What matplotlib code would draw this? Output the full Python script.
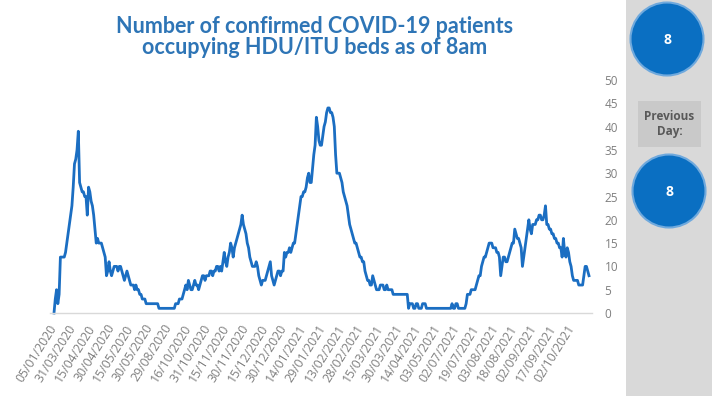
import matplotlib
matplotlib.use("Agg")
import matplotlib.pyplot as plt
from matplotlib.patches import Circle, Rectangle

# Daily count of confirmed COVID-19 patients in HDU/ITU beds (08:00 snapshot)
patients = [
    0, 3, 5, 2, 4, 12, 12, 12, 12, 13,
    15, 17, 19, 21, 23, 27, 32, 33, 35, 39,
    28, 27, 26, 26, 25, 25, 21, 27, 26, 24,
    23, 21, 18, 15, 16, 15, 15, 15, 14, 13,
    12, 8, 9, 11, 9, 8, 9, 10, 10, 10,
    9, 10, 10, 9, 8, 7, 8, 9, 8, 7,
    6, 6, 6, 5, 6, 5, 5, 4, 4, 3,
    3, 3, 2, 2, 2, 2, 2, 2, 2, 2,
    2, 2, 1, 1, 1, 1, 1, 1, 1, 1,
    1, 1, 1, 1, 1, 2, 2, 2, 3, 3,
    3, 4, 5, 6, 5, 7, 6, 5, 5, 6,
    7, 6, 6, 5, 6, 7, 8, 8, 7, 8,
    8, 8, 9, 9, 8, 9, 9, 10, 10, 9,
    10, 9, 11, 13, 11, 10, 12, 13, 15, 14,
    12, 14, 15, 16, 17, 18, 19, 21, 19, 18,
    17, 15, 14, 12, 11, 10, 10, 10, 11, 10,
    8, 7, 6, 7, 7, 7, 8, 9, 10, 11,
    8, 7, 6, 7, 8, 9, 9, 8, 9, 9,
    13, 12, 13, 13, 14, 13, 14, 15, 15, 17,
    19, 21, 23, 25, 25, 26, 26, 27, 29, 30,
    28, 28, 31, 34, 36, 42, 40, 37, 36, 36,
    38, 40, 41, 43, 44, 44, 43, 43, 42, 40,
    34, 30, 30, 30, 29, 28, 26, 25, 24, 23,
    21, 19, 18, 17, 16, 15, 15, 14, 13, 12,
    12, 11, 11, 9, 8, 7, 7, 6, 6, 8,
    7, 6, 5, 5, 5, 6, 6, 6, 5, 5,
    6, 5, 5, 5, 5, 4, 4, 4, 4, 4,
    4, 4, 4, 4, 4, 4, 4, 1, 2, 2,
    2, 1, 1, 2, 2, 1, 1, 1, 2, 2,
    2, 1, 1, 1, 1, 1, 1, 1, 1, 1,
    1, 1, 1, 1, 1, 1, 1, 1, 1, 1,
    1, 2, 1, 1, 2, 2, 1, 1, 1, 1,
    1, 1, 2, 4, 4, 4, 5, 5, 5, 5,
    6, 7, 8, 8, 10, 11, 12, 12, 13, 14,
    15, 15, 15, 14, 14, 14, 13, 13, 12, 8,
    10, 12, 12, 11, 11, 12, 13, 14, 15, 15,
    18, 17, 16, 16, 15, 14, 10, 12, 14, 16,
    18, 20, 18, 17, 19, 19, 19, 20, 20, 21,
    21, 20, 20, 21, 23, 19, 19, 18, 18, 17,
    17, 16, 16, 15, 15, 14, 14, 12, 16, 13,
    12, 14, 13, 11, 10, 8, 7, 7, 7, 7,
    6, 6, 6, 6, 8, 10, 10, 9, 8,
]

# Category labels, one every 15 records
date_labels = [
    "05/01/2020", "31/03/2020", "15/04/2020", "30/04/2020", "15/05/2020",
    "30/05/2020", "29/08/2020", "16/10/2020", "31/10/2020", "15/11/2020",
    "30/11/2020", "15/12/2020", "30/12/2020", "14/01/2021", "29/01/2021",
    "13/02/2021", "28/02/2021", "15/03/2021", "30/03/2021", "14/04/2021",
    "03/05/2021", "02/07/2021", "19/07/2021", "03/08/2021", "18/08/2021",
    "02/09/2021", "17/09/2021", "02/10/2021",
]
label_step = 15
y_ticks = [0, 5, 10, 15, 20, 25, 30, 35, 40, 45, 50]

today_value = 8
previous_day_value = 8

title_text = "Number of confirmed COVID-19 patients\noccupying HDU/ITU beds as of 8am"

W, H = 712, 396
fig = plt.figure(figsize=(W / 100, H / 100), dpi=100)
fig.patch.set_facecolor("white")

# Pixel-space overlay for the side panel
bg = fig.add_axes([0, 0, 1, 1], zorder=0)
bg.set_xlim(0, W)
bg.set_ylim(H, 0)
bg.axis("off")
bg.add_patch(Rectangle((626, 0), W - 626, H, facecolor="#d9d9d9", edgecolor="none"))
bg.add_patch(Rectangle((638, 101), 63, 46, facecolor="#c9c9c9", edgecolor="none"))
bg.text(669.5, 124, "Previous\nDay:", ha="center", va="center", fontsize=8.5,
        fontweight="bold", color="#595959", family="Open Sans", linespacing=1.25)
for (cx, cy), val in [((667, 39), today_value), ((669, 191), previous_day_value)]:
    bg.add_patch(Circle((cx, cy), 36.5, facecolor="#0a6fc2", edgecolor="#6fa9dd",
                        linewidth=1.5))
    bg.text(cx, cy + 1, str(val), ha="center", va="center", fontsize=10,
            fontweight="bold", color="white", family="Open Sans")

bg.text(315, 37, title_text, ha="center", va="center", fontsize=15.5,
        fontweight="bold", color="#2e75b6", family="Lato", linespacing=1.05)

# Main line chart
left_px, right_px, top_px, bottom_px = 50, 592, 80, 313
ax = fig.add_axes([left_px / W, 1 - bottom_px / H, (right_px - left_px) / W,
                   (bottom_px - top_px) / H], zorder=1)
ax.patch.set_alpha(0)

x = list(range(len(patients)))
ax.plot(x, patients, color="#1b6ec2", linewidth=2.0, solid_joinstyle="round",
        clip_on=False)

n = len(patients)
px_per_pt = (589 - 54) / (n - 1)
ax.set_xlim(-(54 - left_px) / px_per_pt, (n - 1) + (right_px - 589) / px_per_pt)
ax.set_ylim(0, 50)

ax.yaxis.tick_right()
ax.set_yticks(y_ticks)
ax.tick_params(axis="y", length=0, pad=9, labelsize=8.5, labelcolor="#7f7f7f")

tick_pos = [i * label_step for i in range(len(date_labels))]
ax.set_xticks(tick_pos)
ax.set_xticklabels(date_labels, rotation=58, ha="right", va="center",
                   rotation_mode="anchor", fontsize=8.8, color="#7f7f7f")
ax.tick_params(axis="x", length=0, pad=9)

for side in ["top", "left", "right"]:
    ax.spines[side].set_visible(False)
ax.spines["bottom"].set_color("#d9d9d9")
ax.spines["bottom"].set_linewidth(1)

for lbl in ax.get_yticklabels() + ax.get_xticklabels():
    lbl.set_family("Open Sans")

fig.savefig("out.png", dpi=100)
